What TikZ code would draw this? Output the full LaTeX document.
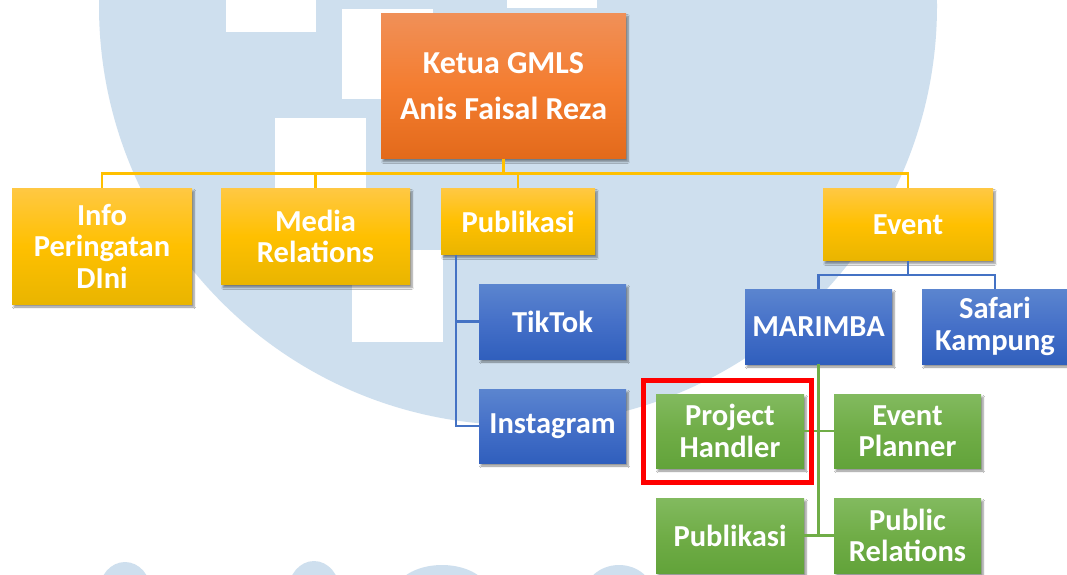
\documentclass[tikz,border=0pt]{standalone}
\usepackage{fontspec}
\setmainfont{Carlito}
\usetikzlibrary{shadows,shadows.blur}
\definecolor{wmblue}{HTML}{CEDFEE}
\definecolor{orT}{HTML}{F09058}\definecolor{orM}{HTML}{F47D30}\definecolor{orB}{HTML}{E36A1B}
\definecolor{yeT}{HTML}{FFC843}\definecolor{yeM}{HTML}{FFC000}\definecolor{yeB}{HTML}{E9B500}
\definecolor{blT}{HTML}{5B85CF}\definecolor{blM}{HTML}{4570C8}\definecolor{blB}{HTML}{305FBD}
\definecolor{grT}{HTML}{82BA5F}\definecolor{grM}{HTML}{70AD47}\definecolor{grB}{HTML}{62A33A}
\definecolor{lnY}{HTML}{FFC000}\definecolor{lnB}{HTML}{4472C4}\definecolor{lnG}{HTML}{70AD47}
\tikzset{
  box/.style={rectangle, inner sep=0pt, align=center, text=white,
    font=\fontsize{30.5}{31.5}\selectfont\bfseries,
    blur shadow={shadow xshift=2pt, shadow yshift=-3pt, shadow blur steps=6, shadow opacity=45}},
  orbox/.style={box, top color=orT, bottom color=orB, middle color=orM},
  yebox/.style={box, top color=yeT, bottom color=yeB, middle color=yeM},
  blbox/.style={box, top color=blT, bottom color=blB, middle color=blM},
  grbox/.style={box, top color=grT, bottom color=grB, middle color=grM},
  lineY/.style={draw=lnY, line width=2.5pt},
  lineB/.style={draw=lnB, line width=2.5pt},
  lineG/.style={draw=lnG, line width=2.5pt},
  hilite/.style={draw=red, line width=5pt, rectangle, inner sep=0pt}
}
\begin{document}
\begin{tikzpicture}[x=1pt,y=-1pt]
\useasboundingbox (0,0) rectangle (1067,574);
\clip (0,0) rectangle (1067,574);
% watermark
\fill[white] (0,0) rectangle (1067,574);
\fill[wmblue] (518,6) circle [radius=419pt];
\fill[white] (226,0) rectangle (316,32);
\fill[white] (342,9) rectangle (433,99);
\fill[white] (275,118) rectangle (366,210);
\fill[white] (352,250) rectangle (443,342);
\fill[white] (507,0) rectangle (597,8);
\fill[wmblue] (125,592) ellipse [x radius=26pt, y radius=30pt];
\fill[wmblue] (314,592) ellipse [x radius=26pt, y radius=31pt];
\fill[wmblue] (442,595) ellipse [x radius=48pt, y radius=30pt];
\fill[wmblue] (619,596) ellipse [x radius=35pt, y radius=31pt];
% nodes
\node[orbox, minimum width=245pt, minimum height=145pt, font=\fontsize{32}{46}\selectfont\bfseries] (ketua) at (503.5,86) {Ketua GMLS\\Anis Faisal Reza};
\node[yebox, minimum width=180pt, minimum height=116pt] (info) at (102,246) {Info\\Peringatan\\DIni};
\node[yebox, minimum width=189pt, minimum height=96pt] (media) at (315.5,236.5) {Media\\Relations};
\node[yebox, minimum width=154pt, minimum height=66pt] (pub) at (518,221.5) {Publikasi};
\node[yebox, minimum width=170pt, minimum height=72pt] (event) at (908,224.5) {Event};
\node[blbox, minimum width=147pt, minimum height=75pt] (tiktok) at (552.5,321.5) {TikTok};
\node[blbox, minimum width=147pt, minimum height=74pt] (insta) at (552.5,426) {Instagram};
\node[blbox, minimum width=147pt, minimum height=75pt] (marimba) at (818.5,326.5) {MARIMBA};
\node[blbox, minimum width=146pt, minimum height=75pt] (safari) at (995,326.5) {Safari\\Kampung};
\node[grbox, minimum width=148pt, minimum height=74pt] (proj) at (730,431) {Project\\Handler};
\node[grbox, minimum width=147pt, minimum height=74pt] (planner) at (907.5,431) {Event\\Planner};
\node[grbox, minimum width=148pt, minimum height=75pt] (pubg) at (730,535.5) {Publikasi};
\node[grbox, minimum width=147pt, minimum height=75pt] (pr) at (907.5,535.5) {Public\\Relations};
% connectors
\coordinate (ybus) at (0,173.5);
\draw[lineY] (ketua.south) -- (ketua.south |- ybus);
\draw[lineY] (info.north) -- (info.north |- ybus) -| (event.north);
\draw[lineY] (media.north) -- (media.north |- ybus);
\draw[lineY] (pub.north) -- (pub.north |- ybus);
\coordinate (pbx) at (456,0);
\draw[lineB] (pub.south -| pbx) |- (insta.west);
\draw[lineB] (tiktok.west) -- (tiktok.west -| pbx);
\coordinate (ebus) at (0,275);
\draw[lineB] (event.south) -- (event.south |- ebus);
\draw[lineB] (marimba.north) -- (marimba.north |- ebus) -| (safari.north);
\draw[lineG] (marimba.south) -- (marimba.south |- pubg.east);
\draw[lineG] (proj.east) -- (planner.west);
\draw[lineG] (pubg.east) -- (pr.west);
% highlight
\node[hilite, minimum width=168pt, minimum height=102pt] (hl) at (727.4,431.5) {};
\end{tikzpicture}
\end{document}
